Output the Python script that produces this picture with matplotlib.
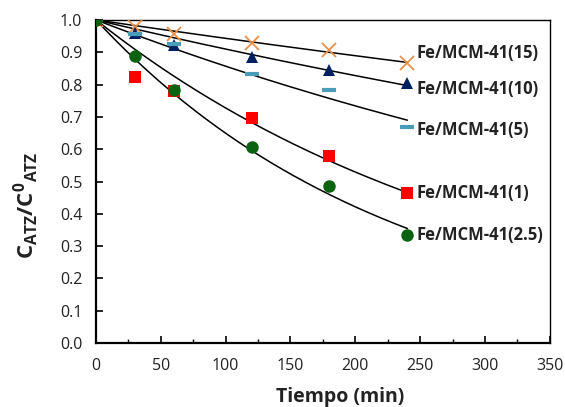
import numpy as np
import matplotlib.pyplot as plt

plt.rcParams['font.family'] = ['Open Sans', 'DejaVu Sans']
plt.rcParams['mathtext.fontset'] = 'custom'
plt.rcParams['mathtext.bf'] = 'Open Sans:bold'
plt.rcParams['mathtext.rm'] = 'Open Sans:bold'

# time (min)
t = np.array([0, 30, 60, 120, 180, 240])

# C/C0
fe15 = [1.0, 0.978, 0.958, 0.929, 0.907, 0.867]
fe10 = [1.0, 0.960, 0.923, 0.886, 0.845, 0.805]
fe5 = [1.0, 0.955, 0.927, 0.833, 0.783, 0.669]
fe1 = [1.0, 0.824, 0.780, 0.697, 0.580, 0.464]
fe25 = [1.0, 0.889, 0.783, 0.607, 0.487, 0.335]

labels = ['Fe/MCM-41(15)', 'Fe/MCM-41(10)', 'Fe/MCM-41(5)', 'Fe/MCM-41(1)', 'Fe/MCM-41(2.5)']
label_y = [0.898, 0.787, 0.660, 0.465, 0.335]

series = [fe15, fe10, fe5, fe1, fe25]
styles = [
    dict(marker='x', color='#E8904A', ms=10, mew=1.3),
    dict(marker='^', color='#002060', ms=9, mew=0),
    dict(marker='_', color='#4A9DB8', ms=10, mew=3),
    dict(marker='s', color='#FF0000', ms=9, mew=0),
    dict(marker='o', color='#0B6312', ms=9, mew=0),
]

fig = plt.figure(figsize=(5.65, 4.07), dpi=100)
ax = fig.add_axes([0.170, 0.157, 0.803, 0.794])

tt = np.linspace(0, 240, 200)
for y, st in zip(series, styles):
    y = np.array(y)
    # first order fit through C/C0 = 1 at t = 0
    k = -np.sum(t * np.log(y)) / np.sum(t ** 2)
    ax.plot(tt, np.exp(-k * tt), color='black', lw=1.1, zorder=2)
for y, st in zip(series, styles):
    ax.plot(t, y, linestyle='none', marker=st['marker'], color=st['color'],
            markersize=st['ms'], markeredgewidth=st['mew'], zorder=3)

for lab, ly in zip(labels, label_y):
    ax.text(247, ly, lab, fontsize=12, fontweight='bold', va='center', ha='left',
            color='#222222')

ax.set_xlim(0, 350)
ax.set_ylim(0, 1.0)
ax.set_xticks(np.arange(0, 351, 50))
ax.set_xticks(np.arange(0, 351, 25), minor=True)
ax.set_yticks(np.arange(0, 1.01, 0.1))
ax.set_yticklabels(['%.1f' % v for v in np.arange(0, 1.01, 0.1)])
ax.tick_params(direction='in', labelsize=11.5, width=1.2, length=5, colors='black',
               labelcolor='#222222')
ax.tick_params(which='minor', direction='in', width=1.0, length=3)
ax.tick_params(axis='x', pad=11)
ax.tick_params(axis='y', pad=10)
for s in ax.spines.values():
    s.set_linewidth(1.0)
ax.spines['left'].set_linewidth(1.6)
ax.spines['bottom'].set_linewidth(1.6)

fig.text(340 / 565, 10 / 407, 'Tiempo (min)', fontsize=14,
         fontweight='bold', ha='center', va='center', color='#222222')
fig.text(26 / 565, 1 - 205 / 407, r'$\mathbf{C_{ATZ}/C^{0}{}_{ATZ}}$', fontsize=16,
         rotation=90, ha='center', va='center', color='#222222')

fig.savefig('out.png', dpi=100)
